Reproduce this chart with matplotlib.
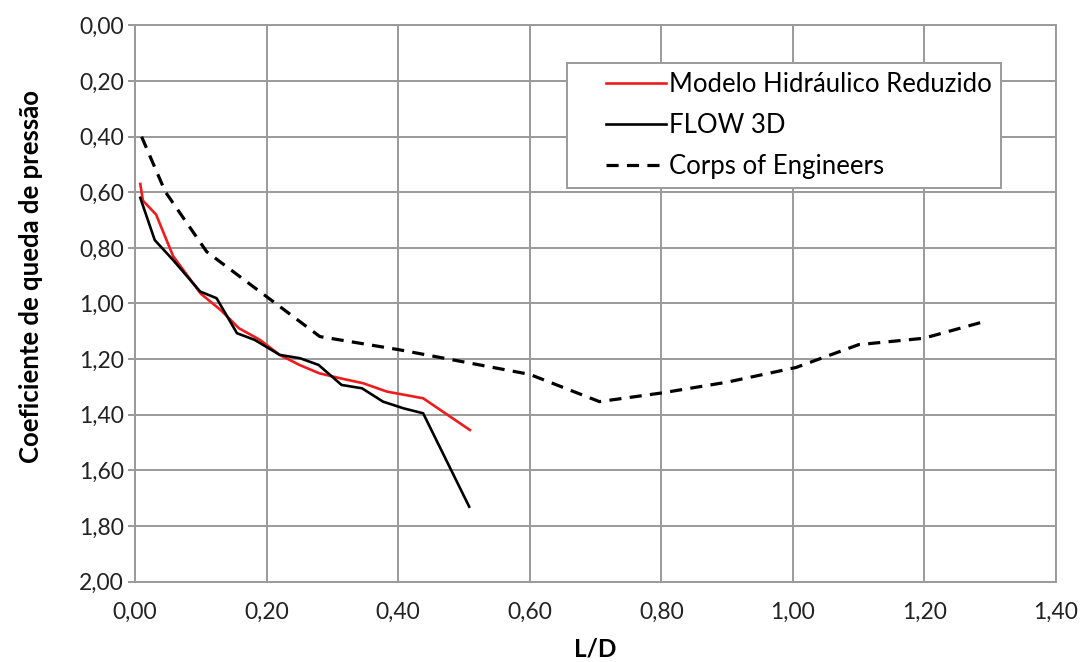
import matplotlib
matplotlib.use("Agg")
import numpy as np
import matplotlib.pyplot as plt
from matplotlib.ticker import FixedLocator
from matplotlib.legend_handler import HandlerLine2D

plt.rcParams['font.family'] = ['Lato', 'DejaVu Sans']

# Modelo Hidráulico Reduzido
modelo_x = [0.008, 0.012, 0.032, 0.058, 0.100, 0.130, 0.158, 0.190, 0.220, 0.250,
            0.280, 0.312, 0.347, 0.383, 0.438, 0.509]
modelo_y = [0.57, 0.63, 0.68, 0.83, 0.965, 1.023, 1.089, 1.131, 1.185, 1.221,
            1.251, 1.269, 1.287, 1.317, 1.341, 1.455]

# FLOW 3D
flow_x = [0.008, 0.030, 0.058, 0.099, 0.124, 0.155, 0.182, 0.220, 0.251, 0.279,
          0.314, 0.345, 0.377, 0.408, 0.438, 0.508]
flow_y = [0.62, 0.772, 0.844, 0.957, 0.981, 1.107, 1.131, 1.185, 1.197, 1.221,
          1.293, 1.305, 1.353, 1.377, 1.395, 1.731]

# Corps of Engineers
corps_x = [0.010, 0.046, 0.109, 0.281, 0.403, 0.600, 0.706, 0.800, 0.900,
           1.005, 1.100, 1.199, 1.294]
corps_y = [0.40, 0.598, 0.814, 1.119, 1.167, 1.255, 1.353, 1.322, 1.283,
           1.230, 1.148, 1.125, 1.063]

x_ticks = [0.0, 0.2, 0.4, 0.6, 0.8, 1.0, 1.2, 1.4]
y_ticks = [0.0, 0.2, 0.4, 0.6, 0.8, 1.0, 1.2, 1.4, 1.6, 1.8, 2.0]


def fmt(v):
    return f"{v:.2f}".replace('.', ',')


class IndentedLine(HandlerLine2D):
    """Legend line drawn only over the right part of the handle box."""
    def get_xdata(self, legend, xdescent, ydescent, width, height, fontsize):
        xd = np.array([-xdescent + 0.33 * width, -xdescent + width])
        return xd, xd


fig = plt.figure(figsize=(10.88, 6.62), dpi=100)
ax = fig.add_axes([0.1241, 0.1216, 0.8465, 0.8399])

grid_col = '#9a9a9a'
l1, = ax.plot(modelo_x, modelo_y, color='#ee1c1c', lw=1.9,
              label='Modelo Hidráulico Reduzido', zorder=3)
l2, = ax.plot(flow_x, flow_y, color='black', lw=1.9, label='FLOW 3D', zorder=3)
l3, = ax.plot(corps_x, corps_y, color='black', lw=2.3, dashes=(3.8, 2.6),
              label='Corps of Engineers', zorder=3)

ax.set_xlim(0, 1.4)
ax.set_ylim(2.0, 0.0)
ax.xaxis.set_major_locator(FixedLocator(x_ticks))
ax.yaxis.set_major_locator(FixedLocator(y_ticks))
ax.set_xticklabels([fmt(v) for v in x_ticks])
ax.set_yticklabels([fmt(v) for v in y_ticks])
ax.grid(True, color=grid_col, lw=1.4)
ax.set_axisbelow(True)
for s in ax.spines.values():
    s.set_color(grid_col)
    s.set_linewidth(1.4)
ax.tick_params(axis='y', length=5, width=1.4, color=grid_col, labelsize=16.5,
               labelcolor='#222222', pad=3)
ax.tick_params(axis='x', length=0, labelsize=16.5, labelcolor='#222222', pad=15)

ax.set_xlabel('L/D', fontsize=17.5, fontweight='bold', labelpad=10)
ax.set_ylabel('Coeficiente de queda de pressão', fontsize=18.5, fontweight='bold')
ax.yaxis.set_label_coords(-0.100, 0.549)

leg = ax.legend(handles=[l1, l2, l3], loc='upper left', bbox_to_anchor=(0.469, 0.933),
                fontsize=18.5, frameon=True, fancybox=False, edgecolor=grid_col,
                framealpha=1, handlelength=3.5, handletextpad=0.12, labelspacing=0.62,
                borderpad=0.36, borderaxespad=0,
                handler_map={l1: IndentedLine(), l2: IndentedLine(), l3: IndentedLine()})
leg.get_frame().set_linewidth(1.4)

fig.savefig('out.png', dpi=100)
